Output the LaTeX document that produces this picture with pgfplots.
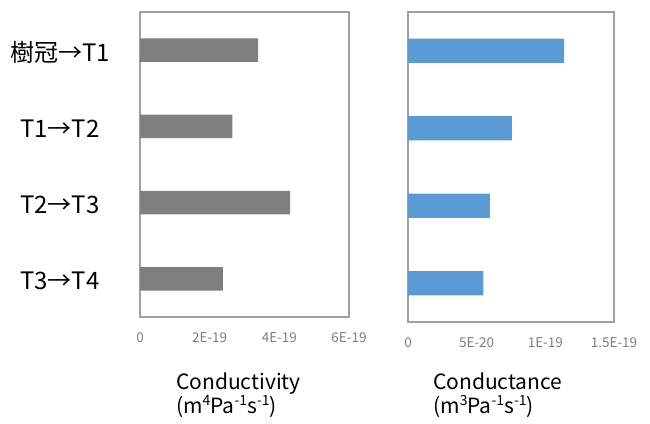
\documentclass[border=0pt]{standalone}
\usepackage{fontspec}
\setmainfont{Noto Sans CJK JP}
\usepackage{pgfplots}
\pgfplotsset{compat=1.18}
\definecolor{bargray}{HTML}{7F7F7F}
\definecolor{barblue}{HTML}{5B9BD5}
\definecolor{framegray}{HTML}{A0A0A0}
\definecolor{tickgray}{HTML}{7F7F7F}
% unit exponents, set a little larger than \textsuperscript
\newcommand{\ex}[1]{\raisebox{0.4em}{\fontsize{14}{14}\selectfont #1}}
\pgfplotsset{
  panel/.style={
    scale only axis,
    xbar,
    anchor=south west,
    ymin=-0.5, ymax=3.5,
    y dir=reverse,
    ytick={0,1,2,3},
    major tick length=0pt,
    axis line style={draw=framegray, line width=1.1pt},
    scaled x ticks=false,
    xticklabel style={font=\fontsize{13.5}{15}\selectfont, text=tickgray, yshift=-12pt},
    bar width=0.31,
    xmin=0,
  }
}
\begin{document}
\begin{tikzpicture}[x=1pt,y=1pt]
\useasboundingbox (0,0) rectangle (650,423);
\begin{axis}[panel,
  at={(140pt,106pt)}, width=209pt, height=305pt,
  xmax=6e-19,
  xtick={0,2e-19,4e-19,6e-19},
  xticklabels={0,2E-19,4E-19,6E-19},
  yticklabels={樹冠→T1, T1→T2, T2→T3, T3→T4},
  yticklabel style={font=\fontsize{24}{28}\selectfont, anchor=center, xshift=-80pt, yshift=-2pt},
]
\addplot[fill=bargray, draw=none] coordinates {
  (3.39e-19,0) (2.65e-19,1) (4.31e-19,2) (2.38e-19,3)
};
\end{axis}
\begin{axis}[panel,
  at={(408pt,101pt)}, width=206pt, height=310pt,
  xmax=1.5e-19,
  xtick={0,5e-20,1e-19,1.5e-19},
  xticklabels={0,5E-20,1E-19,1.5E-19},
  yticklabels={},
]
\addplot[fill=barblue, draw=none] coordinates {
  (1.136e-19,0) (7.57e-20,1) (5.97e-20,2) (5.48e-20,3)
};
\end{axis}
% panel titles with units
\node[anchor=north west, align=left, inner sep=0pt, font=\fontsize{21}{24}\selectfont] at (176,50)
  {Conductivity\\(m\ex{4}Pa\ex{-1}s\ex{-1})};
\node[anchor=north west, align=left, inner sep=0pt, font=\fontsize{21}{24}\selectfont] at (433,50)
  {Conductance\\(m\ex{3}Pa\ex{-1}s\ex{-1})};
\end{tikzpicture}
\end{document}
